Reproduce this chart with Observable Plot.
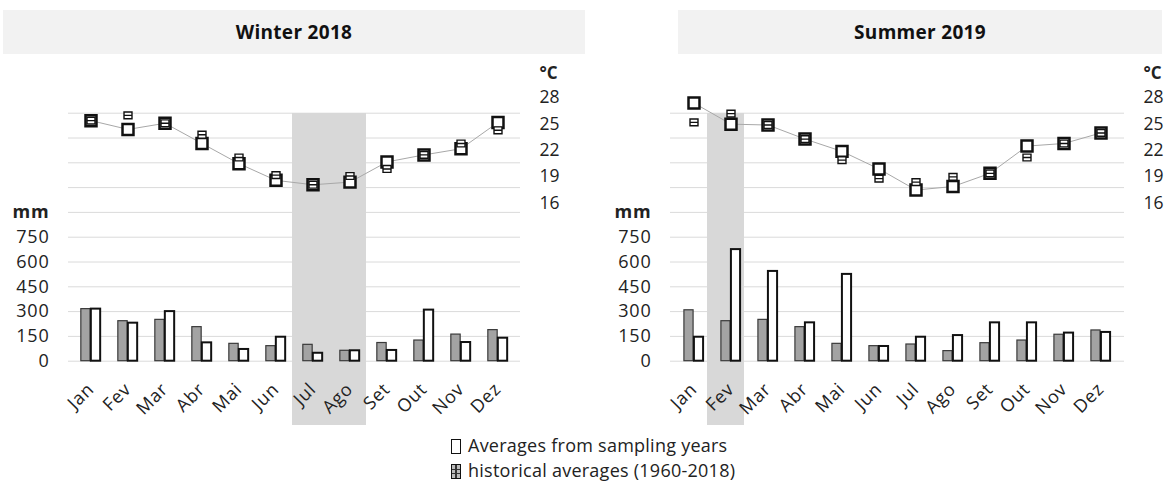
<!DOCTYPE html>
<html><head><meta charset="utf-8">
<script src="https://cdn.jsdelivr.net/npm/d3@7"></script>
<script src="https://cdn.jsdelivr.net/npm/@observablehq/plot@0.6"></script>
<style>
body{margin:0;background:#fff;font-family:"Open Sans",sans-serif;}
#wrap{position:relative;width:1165px;height:489px;overflow:hidden;background:#fff;}
.layer{position:absolute;top:0;}
.hdr{position:absolute;top:10px;height:44px;background:#f2f2f2;font:700 19px "Open Sans";letter-spacing:0.3px;color:#111;display:flex;align-items:center;justify-content:center;}
.legend{position:absolute;left:451px;top:433px;font:18px "Open Sans";letter-spacing:0.25px;color:#222;line-height:25px;}
.ico{display:inline-block;width:8px;height:13px;border:1.6px solid #111;margin-right:7px;vertical-align:-2px;background:#fff;}
.ico-h{background:linear-gradient(to right,transparent 40%,#333 40%,#333 60%,transparent 60%),linear-gradient(to bottom,#bbb 30%,#333 30%,#333 42%,#bbb 42%,#bbb 60%,#333 60%,#333 72%,#bbb 72%);border-width:1.3px;}
</style></head>
<body>
<div id="wrap">
  <div class="hdr" style="left:3px;width:582px;">Winter 2018</div>
  <div class="hdr" style="left:678px;width:484px;">Summer 2019</div>
  <div class="legend">
    <div><span class="ico"></span>Averages from sampling years</div>
    <div><span class="ico ico-h"></span>historical averages (1960-2018)</div>
  </div>
</div>
<script>
// ---- data ----
const months = ["Jan","Fev","Mar","Abr","Mai","Jun","Jul","Ago","Set","Out","Nov","Dez"];
const mmTicks = [0,150,300,450,600,750];
const gridTicks = [0,150,300,450,600,750,900,1050,1200,1350,1500];
const unitTick = [900];
const tempTicks = [16,19,22,25,28];

// Winter 2018
const rainHistW   = [315,242,250,206,105,91,99,63,110,125,161,188];
const rainSampleW = [315,230,300,111,71,145,48,63,65,309,113,139];
const tempHistW   = [25.4,26.0,25.1,23.8,21.2,19.2,18.1,19.1,19.9,21.5,22.8,24.3];
const tempSampleW = [25.4,24.4,25.1,22.8,20.5,18.6,18.1,18.4,20.7,21.5,22.2,25.2];
const shadeW = ["Jul","Ago"];

// Summer 2019
const rainHistS   = [308,242,250,206,105,91,101,61,109,125,160,186];
const rainSampleS = [145,675,543,232,525,89,145,155,232,232,170,174];
const tempHistS   = [25.2,26.2,24.9,23.3,20.9,18.8,18.4,19.0,19.4,21.2,22.8,24.0];
const tempSampleS = [27.4,25.0,24.9,23.3,21.9,19.9,17.5,17.9,19.4,22.5,22.8,24.0];
const shadeS = ["Fev"];

// ---- drawing ----
const W = 580, H = 489;
const barFont = {background:"transparent", fontFamily:"'Open Sans', sans-serif", fontSize:"18px", letterSpacing:"0.8px", color:"#222", overflow:"visible"};
const tempFont = {background:"transparent", fontFamily:"'Open Sans', sans-serif", fontSize:"17.5px", color:"#222", overflow:"visible"};

const histSymbol = {
  draw(ctx, size){
    const s = Math.sqrt(size)/2, h = s*0.85;
    ctx.moveTo(-s,-h); ctx.lineTo(s,-h); ctx.lineTo(s,h); ctx.lineTo(-s,h); ctx.closePath();
    ctx.moveTo(-s,0); ctx.lineTo(s,0);
  }
};

function barsPlot(rh, rs, shade, shadeDx, mL, mR){
  const data = months.map((m,i)=>({m, h: rh[i], s: rs[i]}));
  const bw = (W - mL - mR) / months.length;
  const barW = 10;
  return Plot.plot({
    width: W, height: H, marginLeft: mL, marginRight: mR, marginTop: 112.7, marginBottom: H - 360.7,
    style: barFont,
    x: {type:"band", domain: months, paddingInner: 0, paddingOuter: 0},
    y: {domain: [0,1500]},
    marks: [
      Plot.ruleY(gridTicks, {stroke:"#dadada", strokeWidth:1}),
      Plot.barY(shade, {x: d=>d, y1: 0, y2: 1500, fill:"#d8d8d8", insetBottom:-64, dx: shadeDx, shapeRendering:"crispEdges"}),
      Plot.barY(data, {x:"m", y:"h", fill:"#a3a3a3", stroke:"#3a3a3a", strokeWidth:1.2, insetLeft: bw/2 - barW, insetRight: bw/2}),
      Plot.barY(data, {x:"m", y:"s", fill:"white", stroke:"#111", strokeWidth:2, insetLeft: bw/2, insetRight: bw/2 - barW}),
      Plot.axisY(mmTicks, {anchor:"left", tickSize:0, tickPadding:19, label:null, fontSize:18}),
      Plot.axisY(unitTick, {anchor:"left", tickSize:0, tickPadding:19, label:null, fontSize:18, fontWeight:"bold", tickFormat: () => "mm"}),
      Plot.axisX({tickRotate:-45, tickSize:0, tickPadding:25, label:null, fontSize:18})
    ]
  });
}

function tempPlot(th, ts, mL, mR){
  const data = months.map((m,i)=>({m, h: th[i], s: ts[i]}));
  return Plot.plot({
    width: W, height: H, marginLeft: mL, marginRight: mR, marginTop: 97.3, marginBottom: H - 202.7,
    style: tempFont,
    x: {type:"band", domain: months, paddingInner: 0, paddingOuter: 0, axis: null},
    y: {domain: [16,28]},
    marks: [
      Plot.axisY(tempTicks, {anchor:"right", tickSize:0, tickPadding:19, label:null, fontSize:17.5}),
      Plot.text(["°C"], {frameAnchor:"top-right", dx:19, dy:-31, textAnchor:"start", fontWeight:"bold", fontSize:17}),
      Plot.line(data, {x:"m", y:"s", stroke:"#a8a8a8", strokeWidth:1}),
      Plot.dot(data, {x:"m", y:"s", symbol:"square", r:6.2, fill:"white", stroke:"#111", strokeWidth:2.5}),
      Plot.dot(data, {x:"m", y:"h", symbol: histSymbol, r:4.5, fill:"white", stroke:"#111", strokeWidth:1.4})
    ]
  });
}

const wrap = document.getElementById("wrap");
function place(svg, left){
  svg.classList.add("layer");
  svg.style.position = "absolute";
  svg.style.left = left + "px";
  svg.style.top = "0px";
  wrap.appendChild(svg);
}
place(barsPlot(rainHistW, rainSampleW, shadeW, -2, 68, W - 520), 0);
place(tempPlot(tempHistW, tempSampleW, 68, W - 520), 0);
place(barsPlot(rainHistS, rainSampleS, shadeS, -5, 85, W - 539), 585);
place(tempPlot(tempHistS, tempSampleS, 85, W - 539), 585);
// keep headers and legend on top
wrap.querySelectorAll(".hdr,.legend").forEach(el => wrap.appendChild(el));
</script>
</body></html>
